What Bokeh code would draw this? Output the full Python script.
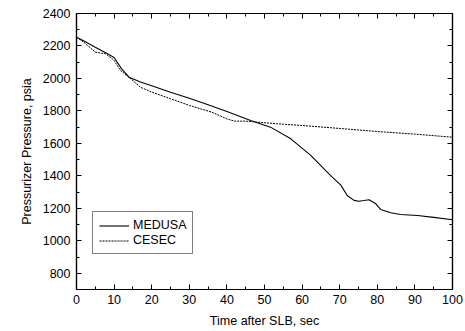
from bokeh.plotting import figure
from bokeh.models import LinearAxis, FixedTicker, Range1d, Legend, LegendItem
from bokeh.embed import file_html
from bokeh.resources import INLINE

# MEDUSA (solid)
medusa_t = [0, 2, 5, 8, 10, 12, 14, 17, 20, 25, 30, 35, 40, 46.3, 51.6, 57, 62.3, 67.6, 70.3, 72, 73.8, 75.1, 76.5, 77.8, 79.6, 80.9, 83.6, 86.2, 90.7, 95, 100]
medusa_p = [2254, 2230, 2192, 2155, 2129, 2059, 2008, 1978, 1955, 1915, 1878, 1838, 1797, 1741, 1700, 1628, 1526, 1402, 1343, 1279, 1249, 1244, 1248, 1253, 1228, 1193, 1173, 1162, 1156, 1144, 1130]
# CESEC (dotted)
cesec_t = [0, 2, 5, 7.7, 9.5, 10, 11.7, 15, 17, 20, 25, 30, 36, 40, 42, 45, 48, 55, 60, 70, 80, 90, 100]
cesec_p = [2254, 2222, 2162, 2152, 2121, 2111, 2049, 1987, 1946, 1916, 1875, 1834, 1792, 1751, 1737, 1737, 1731, 1718, 1710, 1692, 1673, 1657, 1638]

x_major = list(range(0, 101, 10))
x_minor = list(range(5, 100, 10))
y_major = list(range(800, 2401, 200))
y_minor = list(range(700, 2400, 200))

FONT = "Liberation Sans"

p = figure(output_backend="svg", toolbar_location=None,
           x_range=Range1d(0, 100), y_range=Range1d(700, 2400),
           min_border_left=76, min_border_right=13, min_border_top=13, min_border_bottom=40,
           x_axis_label="Time after SLB, sec", y_axis_label="Pressurizer Pressure, psia")
p.frame_width = 376
p.frame_height = 276
p.grid.visible = False
p.outline_line_color = "black"
p.outline_line_width = 1.2
p.background_fill_color = "white"
p.border_fill_color = "white"

r1 = p.line(medusa_t, medusa_p, line_color="black", line_width=1.1)
r2 = p.line(cesec_t, cesec_p, line_color="black", line_width=1, line_dash="2 1")

def style(ax):
    ax.major_tick_in = 5
    ax.major_tick_out = 0
    ax.minor_tick_in = 3
    ax.minor_tick_out = 0
    ax.axis_line_color = "black"
    ax.axis_line_width = 1.2
    ax.major_tick_line_color = "black"
    ax.minor_tick_line_color = "black"
    ax.major_label_text_font = FONT
    ax.major_label_text_font_size = "12.5px"
    ax.major_label_text_color = "black"
    ax.axis_label_text_font = FONT
    ax.axis_label_text_font_size = "12.5px"
    ax.axis_label_text_font_style = "normal"
    ax.axis_label_text_color = "black"

p.xaxis.ticker = FixedTicker(ticks=x_major, minor_ticks=x_minor)
p.yaxis.ticker = FixedTicker(ticks=y_major, minor_ticks=y_minor)
for ax in p.xaxis + p.yaxis:
    style(ax)
p.xaxis.major_label_standoff = 5
p.xaxis.axis_label_standoff = 7
p.yaxis.major_label_standoff = 6
p.yaxis.axis_label_standoff = 6

top = LinearAxis(ticker=FixedTicker(ticks=x_major, minor_ticks=x_minor))
right = LinearAxis(ticker=FixedTicker(ticks=y_major, minor_ticks=y_minor))
style(top)
style(right)
top.major_label_overrides = {t: "" for t in x_major}
right.major_label_overrides = {t: "" for t in y_major}
top.major_label_standoff = 0
right.major_label_standoff = 0
p.add_layout(top, "above")
p.add_layout(right, "right")

legend = Legend(items=[LegendItem(label="MEDUSA", renderers=[r1]),
                       LegendItem(label="CESEC", renderers=[r2])],
                location=(16, 35))
legend.label_text_font = FONT
legend.label_text_font_size = "12.5px"
legend.label_text_color = "black"
legend.border_line_color = "black"
legend.border_line_width = 1
legend.background_fill_alpha = 1
legend.glyph_width = 30
legend.glyph_height = 13
legend.label_height = 13
legend.label_standoff = 4
legend.padding = 6
legend.spacing = 1
legend.margin = 0
p.add_layout(legend, "center")

open("out.html", "w").write(file_html(p, INLINE))
